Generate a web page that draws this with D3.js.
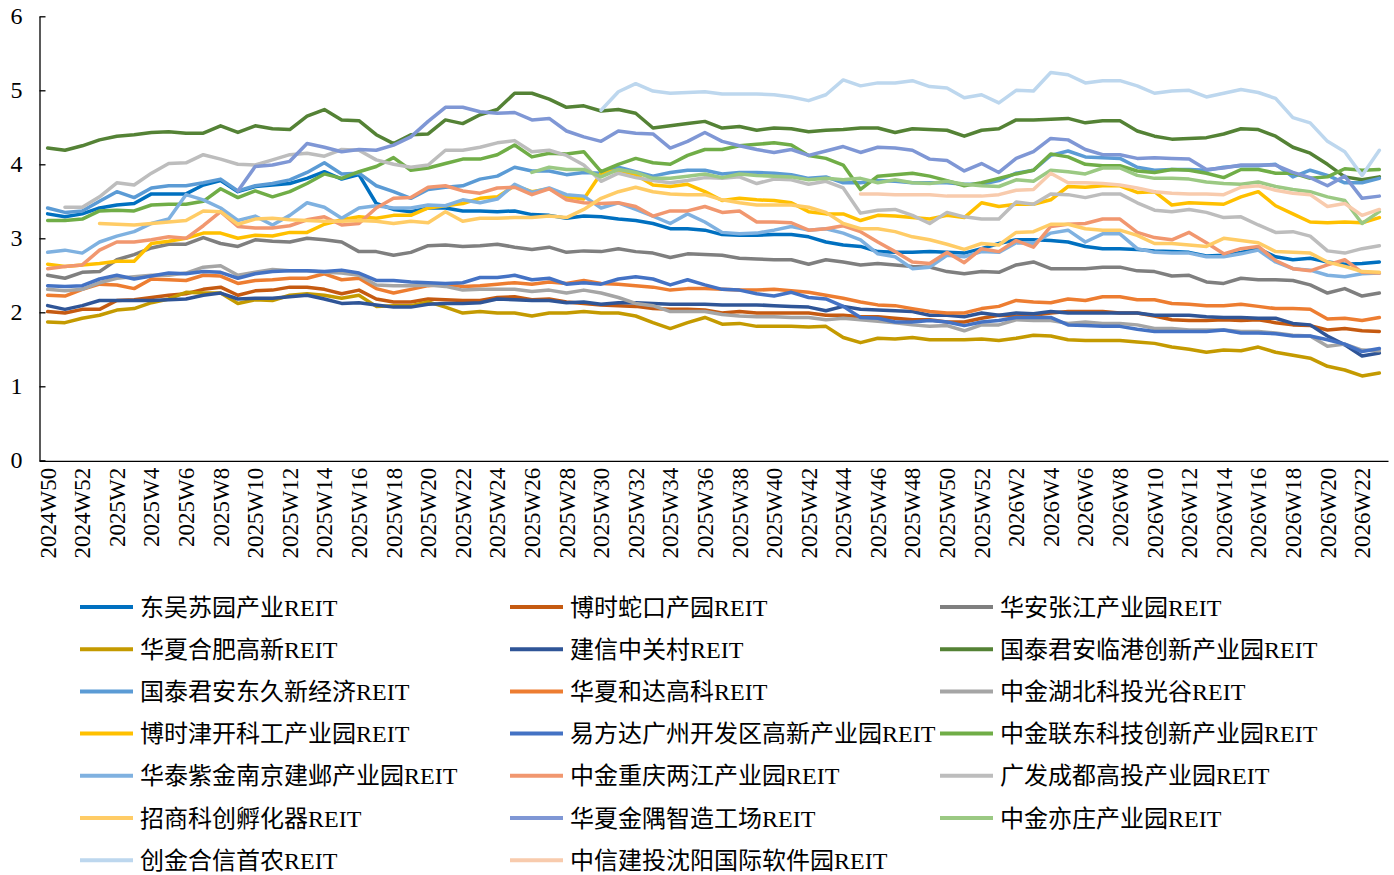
<!DOCTYPE html>
<html><head><meta charset="utf-8">
<script src="https://cdn.jsdelivr.net/npm/d3@7"></script>
<style>body{margin:0;background:#fff} svg{display:block}</style>
</head><body>
<svg id="c" width="1394" height="875"></svg>
<script>
const weeks = ["2024W50","2024W51","2024W52",
"2025W1","2025W2","2025W3","2025W4","2025W5","2025W6","2025W7","2025W8","2025W9","2025W10",
"2025W11","2025W12","2025W13","2025W14","2025W15","2025W16","2025W17","2025W18","2025W19","2025W20",
"2025W21","2025W22","2025W23","2025W24","2025W25","2025W26","2025W27","2025W28","2025W29","2025W30",
"2025W31","2025W32","2025W33","2025W34","2025W35","2025W36","2025W37","2025W38","2025W39","2025W40",
"2025W41","2025W42","2025W43","2025W44","2025W45","2025W46","2025W47","2025W48","2025W49","2025W50",
"2025W51","2025W52",
"2026W1","2026W2","2026W3","2026W4","2026W5","2026W6","2026W7","2026W8","2026W9","2026W10",
"2026W11","2026W12","2026W13","2026W14","2026W15","2026W16","2026W17","2026W18","2026W19","2026W20",
"2026W21","2026W22","2026W23"];
const yTicks = [0,1,2,3,4,5,6];
const names = ["东吴苏园产业REIT","博时蛇口产园REIT","华安张江产业园REIT",
"华夏合肥高新REIT","建信中关村REIT","国泰君安临港创新产业园REIT",
"国泰君安东久新经济REIT","华夏和达高科REIT","中金湖北科投光谷REIT",
"博时津开科工产业园REIT","易方达广州开发区高新产业园REIT","中金联东科技创新产业园REIT",
"华泰紫金南京建邺产业园REIT","中金重庆两江产业园REIT","广发成都高投产业园REIT",
"招商科创孵化器REIT","华夏金隅智造工场REIT","中金亦庄产业园REIT",
"创金合信首农REIT","中信建投沈阳国际软件园REIT"];
const colors = ["#0070C0","#C55A11","#7F7F7F","#C49A00","#2F5597","#548235",
"#5B9BD5","#ED7D31","#A5A5A5","#FFC000","#4472C4","#70AD47",
"#7FB1E0","#F1976F","#BDBDBD","#FFCC66","#7F97D5","#9BC983","#BDD7EE","#F8CBAD"];

const s1 = [3.33,3.29,3.33,3.41,3.45,3.47,3.60,3.60,3.60,3.72,3.78,3.63,3.70,
3.72,3.74,3.81,3.90,3.80,3.86,3.47,3.39,3.36,3.41,3.41,3.37,3.37,3.36,
3.37,3.32,3.31,3.27,3.30,3.29,3.26,3.24,3.20,3.13,3.13,3.11,3.05,
3.04,3.04,3.05,3.05,3.02,2.95,2.91,2.89,2.82,2.81,2.81,2.82,2.81,
2.80,2.86,2.93,2.98,2.98,2.97,2.95,2.89,2.86,2.86,2.85,2.83,2.82,
2.81,2.76,2.77,2.81,2.86,2.75,2.71,2.73,2.68,2.65,2.66,2.68];
const s2 = [2.01,1.99,2.04,2.04,2.16,2.17,2.20,2.23,2.25,2.31,2.34,2.23,2.29,
2.30,2.34,2.34,2.31,2.25,2.30,2.18,2.14,2.14,2.18,2.17,2.16,2.16,2.20,
2.21,2.17,2.18,2.14,2.12,2.10,2.09,2.08,2.05,2.04,2.04,2.03,1.99,
2.01,1.99,1.99,1.99,1.99,1.96,1.96,1.94,1.94,1.92,1.90,1.90,1.87,
1.87,1.92,1.96,1.95,1.96,1.99,2.01,2.01,2.01,1.99,1.99,1.95,1.90,
1.89,1.89,1.90,1.89,1.90,1.86,1.83,1.82,1.76,1.78,1.75,1.74];
const s3 = [2.50,2.46,2.54,2.55,2.71,2.78,2.87,2.92,2.92,3.01,2.93,2.89,2.98,
2.96,2.95,3.00,2.98,2.95,2.82,2.82,2.77,2.81,2.90,2.91,2.89,2.90,2.92,
2.88,2.85,2.88,2.81,2.83,2.82,2.86,2.82,2.80,2.74,2.79,2.78,2.77,
2.73,2.72,2.71,2.71,2.65,2.71,2.68,2.64,2.66,2.64,2.62,2.61,2.55,
2.52,2.55,2.54,2.64,2.68,2.59,2.59,2.59,2.61,2.61,2.56,2.55,2.49,
2.50,2.41,2.39,2.46,2.44,2.44,2.43,2.37,2.26,2.32,2.22,2.26];
const s4 = [1.87,1.86,1.92,1.96,2.03,2.05,2.13,2.18,2.27,2.26,2.26,2.12,2.17,
2.16,2.23,2.25,2.23,2.19,2.23,2.08,2.09,2.09,2.14,2.07,1.99,2.01,1.99,
1.99,1.95,1.99,1.99,2.01,1.99,1.99,1.95,1.86,1.78,1.86,1.93,1.84,
1.85,1.81,1.81,1.81,1.80,1.81,1.66,1.59,1.65,1.64,1.66,1.63,1.63,
1.63,1.64,1.62,1.65,1.69,1.68,1.63,1.62,1.62,1.62,1.60,1.58,1.53,
1.50,1.46,1.49,1.48,1.53,1.46,1.42,1.38,1.27,1.22,1.14,1.18];
const s5 = [2.09,2.04,2.09,2.16,2.16,2.16,2.16,2.17,2.18,2.23,2.26,2.18,2.19,
2.19,2.21,2.23,2.18,2.12,2.13,2.10,2.07,2.07,2.11,2.12,2.12,2.13,2.18,
2.17,2.16,2.16,2.13,2.14,2.11,2.13,2.13,2.12,2.11,2.11,2.11,2.10,
2.10,2.10,2.09,2.08,2.07,2.02,2.08,2.04,2.03,2.02,2.01,1.96,1.96,
1.94,1.99,1.96,1.99,1.98,2.01,1.99,1.99,1.99,1.99,1.99,1.96,1.96,
1.96,1.94,1.93,1.93,1.92,1.92,1.85,1.83,1.68,1.56,1.41,1.45];
const s6 = [4.22,4.19,4.25,4.33,4.38,4.40,4.43,4.44,4.42,4.42,4.52,4.43,4.52,
4.48,4.47,4.65,4.74,4.60,4.59,4.40,4.28,4.40,4.41,4.60,4.55,4.67,4.74,
4.96,4.96,4.88,4.77,4.79,4.72,4.74,4.69,4.49,4.52,4.55,4.58,4.49,
4.51,4.46,4.49,4.48,4.44,4.46,4.47,4.49,4.49,4.43,4.48,4.47,4.46,
4.38,4.46,4.48,4.60,4.60,4.61,4.62,4.56,4.59,4.59,4.45,4.38,4.34,
4.35,4.36,4.41,4.48,4.47,4.38,4.23,4.15,4.00,3.83,3.79,3.83];
const s7 = [3.41,3.35,3.37,3.50,3.63,3.55,3.68,3.71,3.71,3.75,3.80,3.64,3.71,
3.74,3.79,3.89,4.02,3.87,3.88,3.71,3.63,3.54,3.66,3.69,3.71,3.80,3.84,
3.96,3.91,3.91,3.86,3.89,3.88,3.96,3.90,3.84,3.89,3.92,3.92,3.87,
3.89,3.89,3.88,3.86,3.81,3.83,3.75,3.75,3.78,3.77,3.75,3.75,3.75,
3.73,3.73,3.78,3.88,3.92,4.12,4.18,4.10,4.09,4.08,3.96,3.92,3.93,
3.93,3.92,3.96,3.98,3.98,4.00,3.83,3.92,3.85,3.75,3.75,3.81];
const s8 = [2.23,2.22,2.31,2.38,2.37,2.32,2.45,2.44,2.43,2.50,2.49,2.39,2.43,
2.44,2.46,2.46,2.52,2.44,2.46,2.32,2.26,2.31,2.36,2.38,2.35,2.36,2.38,
2.40,2.38,2.41,2.39,2.43,2.39,2.38,2.36,2.34,2.30,2.32,2.32,2.31,
2.30,2.30,2.31,2.29,2.27,2.23,2.19,2.14,2.10,2.09,2.05,2.01,1.99,
1.99,2.05,2.08,2.16,2.14,2.13,2.18,2.16,2.21,2.21,2.17,2.17,2.12,
2.11,2.09,2.09,2.11,2.08,2.05,2.05,2.04,1.91,1.92,1.89,1.93];
const s9 = [2.31,2.29,2.31,2.40,2.46,2.48,2.50,2.50,2.53,2.61,2.63,2.50,2.54,
2.58,2.56,2.56,2.54,2.53,2.50,2.37,2.36,2.36,2.37,2.35,2.30,2.31,2.31,
2.31,2.28,2.30,2.26,2.30,2.26,2.20,2.12,2.09,2.01,2.01,2.01,1.97,
1.95,1.94,1.94,1.93,1.93,1.90,1.92,1.90,1.88,1.86,1.83,1.81,1.82,
1.75,1.83,1.83,1.90,1.89,1.89,1.85,1.87,1.85,1.85,1.83,1.78,1.78,
1.76,1.76,1.76,1.74,1.74,1.72,1.69,1.68,1.54,1.57,1.49,1.48];
const s10 = [2.65,2.62,2.64,2.66,2.69,2.69,2.93,2.96,3.00,3.07,3.07,3.00,3.04,
3.03,3.08,3.08,3.19,3.25,3.29,3.27,3.31,3.31,3.41,3.44,3.47,3.54,3.56,
3.71,3.63,3.67,3.56,3.53,3.88,3.92,3.86,3.72,3.70,3.73,3.63,3.51,
3.54,3.52,3.51,3.48,3.36,3.33,3.33,3.24,3.31,3.30,3.28,3.26,3.31,
3.28,3.48,3.43,3.46,3.46,3.52,3.70,3.69,3.71,3.71,3.62,3.63,3.45,
3.48,3.47,3.46,3.56,3.63,3.44,3.33,3.22,3.21,3.22,3.21,3.28];
const s11 = [2.36,2.35,2.36,2.45,2.50,2.45,2.49,2.53,2.52,2.55,2.54,2.46,2.52,
2.55,2.56,2.56,2.55,2.57,2.53,2.43,2.43,2.41,2.40,2.39,2.40,2.47,2.47,
2.50,2.44,2.46,2.38,2.40,2.38,2.45,2.48,2.45,2.37,2.44,2.37,2.31,
2.30,2.25,2.22,2.27,2.20,2.18,2.08,1.93,1.92,1.87,1.87,1.89,1.87,
1.82,1.87,1.89,1.93,1.93,1.93,1.83,1.82,1.81,1.81,1.77,1.74,1.74,
1.74,1.74,1.76,1.72,1.72,1.71,1.68,1.68,1.63,1.57,1.47,1.51];
const s12 = [3.24,3.24,3.26,3.37,3.38,3.37,3.45,3.46,3.46,3.50,3.67,3.55,3.64,
3.56,3.63,3.74,3.87,3.81,3.90,3.97,4.09,3.92,3.95,4.01,4.07,4.07,4.13,
4.26,4.10,4.15,4.14,4.17,3.90,4.00,4.08,4.02,4.00,4.12,4.20,4.20,
4.25,4.27,4.29,4.26,4.12,4.08,3.99,3.66,3.84,3.86,3.88,3.84,3.78,
3.71,3.75,3.81,3.87,3.92,4.14,4.10,4.00,3.98,3.98,3.91,3.89,3.93,
3.92,3.88,3.82,3.93,3.93,3.88,3.88,3.81,3.83,3.94,3.92,3.93];
const s13 = [2.81,2.84,2.80,2.95,3.03,3.09,3.20,3.26,3.59,3.52,3.41,3.24,3.30,
3.18,3.31,3.48,3.42,3.27,3.41,3.44,3.41,3.41,3.45,3.44,3.52,3.48,3.53,
3.73,3.62,3.68,3.59,3.57,3.41,3.48,3.39,3.30,3.20,3.33,3.22,3.08,
3.06,3.07,3.11,3.16,3.11,3.13,3.07,2.98,2.79,2.75,2.59,2.61,2.77,
2.75,2.82,2.81,2.94,2.93,3.07,3.11,2.95,3.06,3.06,2.86,2.81,2.80,
2.80,2.75,2.75,2.79,2.84,2.68,2.59,2.57,2.50,2.48,2.52,2.53];
const s14 = [2.59,2.62,2.64,2.84,2.95,2.95,2.98,3.02,3.00,3.17,3.36,3.16,3.14,
3.14,3.17,3.25,3.29,3.18,3.20,3.41,3.54,3.55,3.69,3.71,3.64,3.61,3.68,
3.69,3.59,3.67,3.52,3.48,3.47,3.48,3.43,3.30,3.37,3.37,3.43,3.35,
3.37,3.22,3.22,3.21,3.11,3.13,3.17,3.09,2.95,2.82,2.68,2.66,2.81,
2.67,2.86,2.82,2.97,2.88,3.16,3.19,3.20,3.26,3.26,3.08,3.01,2.98,
3.08,2.94,2.79,2.86,2.89,2.70,2.59,2.56,2.64,2.71,2.54,2.53];
const s15 = [null,3.42,3.42,3.56,3.75,3.72,3.88,4.01,4.02,4.13,4.07,4.00,3.99,
4.06,4.13,4.15,4.11,4.20,4.19,4.06,4.00,3.96,3.99,4.19,4.19,4.23,4.29,
4.32,4.17,4.19,4.12,3.99,3.77,3.88,3.82,3.78,3.75,3.78,3.82,3.81,
3.83,3.74,3.80,3.79,3.73,3.77,3.68,3.34,3.38,3.39,3.31,3.20,3.35,
3.29,3.26,3.26,3.49,3.46,3.60,3.59,3.55,3.60,3.60,3.48,3.38,3.36,
3.39,3.35,3.28,3.29,3.18,3.08,3.09,3.03,2.83,2.80,2.86,2.90];
const s16 = [null,null,null,3.20,3.19,3.18,3.20,3.22,3.24,3.37,3.36,3.19,3.26,
3.27,3.25,3.24,3.23,3.23,3.24,3.23,3.20,3.23,3.21,3.36,3.23,3.27,3.27,
3.28,3.28,3.30,3.28,3.39,3.54,3.63,3.69,3.63,3.60,3.59,3.59,3.52,
3.48,3.45,3.45,3.45,3.42,3.35,3.20,3.13,3.13,3.09,3.02,2.98,2.92,
2.85,2.93,2.91,3.08,3.09,3.19,3.19,3.13,3.11,3.11,3.04,2.93,2.93,
2.91,2.89,3.00,2.97,2.94,2.82,2.81,2.80,2.68,2.62,2.55,2.54];
const s17 = [null,null,null,null,null,null,null,null,null,null,null,3.64,3.97,
3.99,4.04,4.28,4.23,4.17,4.20,4.19,4.26,4.37,4.58,4.77,4.77,4.71,4.69,
4.70,4.60,4.62,4.45,4.37,4.31,4.45,4.42,4.41,4.22,4.31,4.43,4.31,
4.25,4.20,4.16,4.20,4.12,4.18,4.24,4.16,4.23,4.22,4.19,4.07,4.05,
3.91,4.01,3.89,4.08,4.17,4.35,4.33,4.20,4.13,4.13,4.08,4.09,4.08,
4.07,3.93,3.95,3.99,3.99,3.99,3.89,3.82,3.71,3.84,3.54,3.57];
const s18 = [null,null,null,null,null,null,null,null,null,null,null,null,null,
null,null,null,null,null,null,null,null,null,null,null,null,null,null,
null,3.89,3.96,3.93,3.93,3.83,3.93,3.89,3.81,3.81,3.84,3.87,3.82,
3.87,3.85,3.84,3.83,3.79,3.81,3.79,3.81,3.75,3.79,3.75,3.74,3.77,
3.73,3.71,3.70,3.79,3.77,3.92,3.90,3.87,3.95,3.95,3.85,3.81,3.81,
3.80,3.76,3.74,3.73,3.76,3.70,3.66,3.63,3.56,3.51,3.20,3.36];
const s19 = [null,null,null,null,null,null,null,null,null,null,null,null,null,
null,null,null,null,null,null,null,null,null,null,null,null,null,null,
null,null,null,null,null,4.73,4.98,5.09,4.99,4.96,4.97,4.98,4.95,
4.95,4.95,4.94,4.91,4.86,4.94,5.14,5.06,5.10,5.10,5.13,5.05,5.03,
4.90,4.94,4.83,5.00,4.99,5.24,5.21,5.10,5.13,5.13,5.06,4.96,4.99,
5.00,4.91,4.96,5.01,4.97,4.89,4.63,4.56,4.31,4.17,3.85,4.19];
const s20 = [null,null,null,null,null,null,null,null,null,null,null,null,null,
null,null,null,null,null,null,null,null,null,null,null,null,null,null,
null,null,null,null,null,null,null,null,null,null,null,null,null,
null,null,null,null,null,null,null,3.60,3.60,3.59,3.59,3.59,3.57,
3.57,3.57,3.59,3.65,3.66,3.88,3.75,3.75,3.74,3.72,3.68,3.63,3.61,
3.60,3.60,3.59,3.69,3.71,3.65,3.61,3.59,3.43,3.47,3.31,3.39];
const seriesValues = [s1,s2,s3,s4,s5,s6,s7,s8,s9,s10,s11,s12,s13,s14,s15,s16,s17,s18,s19,s20];

const FONT = "'Liberation Serif','Times New Roman','Noto Sans CJK SC',serif";
const svg = d3.select("#c");
const x = d3.scaleBand().domain(d3.range(weeks.length)).range([39, 1388]).paddingInner(0).paddingOuter(0);
const y = d3.scaleLinear().domain([0, 6]).range([460.3, 16.3]);
const cx = i => x(i) + x.bandwidth() / 2;

// y axis
const yAxis = svg.append("g").attr("transform", "translate(39.5,0)")
  .call(d3.axisLeft(y).tickValues(yTicks).tickFormat(d3.format("d")).tickSizeInner(-6).tickSizeOuter(0).tickPadding(17));
yAxis.select(".domain").attr("stroke", "#000").attr("stroke-width", 1.3);
yAxis.selectAll(".tick line").attr("stroke", "#000").attr("stroke-width", 1.3);
yAxis.selectAll("text").attr("font-family", FONT).attr("font-size", 24).attr("fill", "#000");

// x axis
const xAxis = svg.append("g").attr("transform", "translate(0,460.8)")
  .call(d3.axisBottom(x).tickValues(d3.range(0, weeks.length, 2)).tickFormat(i => weeks[i]).tickSize(0).tickPadding(0));
xAxis.select(".domain").attr("stroke", "#000").attr("stroke-width", 1.3);
xAxis.selectAll("text")
  .attr("font-family", FONT).attr("font-size", 23).attr("fill", "#000")
  .attr("transform", "rotate(-90)").attr("x", -7).attr("y", 0).attr("dy", "0.35em")
  .style("text-anchor", "end");

// lines
const line = d3.line().defined(d => d != null).x((d, i) => cx(i)).y(d => y(d));
svg.append("g").selectAll("path").data(seriesValues).join("path")
  .attr("d", d => line(d))
  .attr("fill", "none")
  .attr("stroke", (d, i) => colors[i])
  .attr("stroke-width", 3.5)
  .attr("stroke-linejoin", "round")
  .attr("stroke-linecap", "round");

// legend
const colX = [80, 510, 940];
const lg = svg.append("g").selectAll("g").data(names).join("g")
  .attr("transform", (d, i) => `translate(${colX[i % 3]},${607 + Math.floor(i / 3) * 42.2})`);
lg.append("line").attr("x1", 0).attr("x2", 53).attr("y1", 0).attr("y2", 0)
  .attr("stroke", (d, i) => colors[i]).attr("stroke-width", 4);
lg.append("text").attr("x", 60).attr("y", 0).attr("dy", "0.36em")
  .attr("font-family", FONT).attr("font-size", 24).attr("fill", "#000")
  .text(d => d);
</script>
</body></html>
